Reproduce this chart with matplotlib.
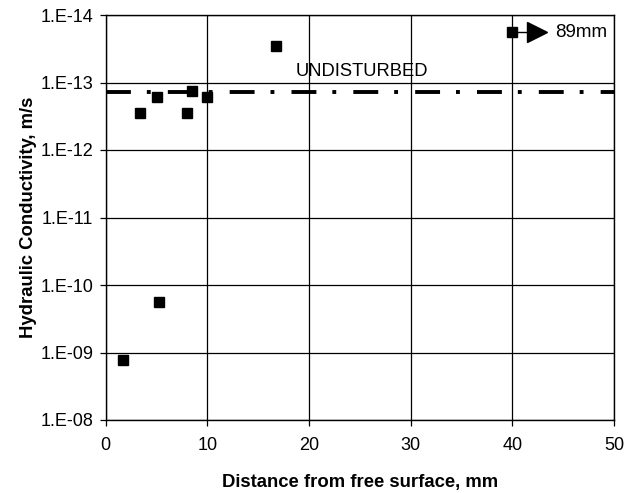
import matplotlib
matplotlib.use("Agg")
import matplotlib.pyplot as plt
from matplotlib.ticker import FixedLocator, FixedFormatter

plt.rcParams['font.family'] = ['Liberation Sans', 'DejaVu Sans']

distance = [1.67, 5.24, 3.37, 5.01, 7.96, 8.46, 9.93, 16.8, 40.0]
conductivity = [1.29e-9, 1.77e-10, 2.86e-13, 1.66e-13, 2.8e-13, 1.32e-13, 1.62e-13, 2.85e-14, 1.8e-14]
undisturbed = 1.38e-13
y_ticks = [1e-14, 1e-13, 1e-12, 1e-11, 1e-10, 1e-9, 1e-8]
y_labels = ["1.E-14", "1.E-13", "1.E-12", "1.E-11", "1.E-10", "1.E-09", "1.E-08"]
x_ticks = [0, 10, 20, 30, 40, 50]

fig = plt.figure(figsize=(6.24, 4.93), dpi=100)
ax = fig.add_axes([105.7 / 624, 1 - 420 / 493, (614 - 105.7) / 624, (420 - 15) / 493])

ax.set_yscale('log')
ax.set_xlim(0, 50)
ax.set_ylim(1e-8, 1e-14)

ax.grid(True, which='major', color='black', linewidth=0.9)
ax.set_axisbelow(True)

ax.plot([0, 50], [undisturbed, undisturbed], color='black', linewidth=2.8,
        linestyle=(0, (6.4, 4.1, 1.0, 4.4)), zorder=3)
ax.text(25.2, undisturbed * 0.66, "UNDISTURBED", ha='center', va='bottom', fontsize=13.2)

ax.plot(distance, conductivity, 's', color='black', markersize=6.5, zorder=4)

# arrow to 89mm
ax.plot([40.0, 42.0], [1.8e-14, 1.8e-14], color='black', linewidth=1.0, zorder=4)
ax.plot([42.4], [1.8e-14], '>', color='black', markersize=14, zorder=4)
ax.text(44.2, 1.8e-14, "89mm", ha='left', va='center', fontsize=13.5)

ax.yaxis.set_major_locator(FixedLocator(y_ticks))
ax.yaxis.set_major_formatter(FixedFormatter(y_labels))
ax.yaxis.set_minor_locator(FixedLocator([]))
ax.set_xticks(x_ticks)

ax.tick_params(axis='both', direction='out', length=4, width=0.9, labelsize=13, colors='black')
ax.tick_params(axis='x', pad=8)
ax.tick_params(axis='y', pad=5)
for s in ax.spines.values():
    s.set_linewidth(1.0)
    s.set_color('black')

ax.set_xlabel("Distance from free surface, mm", fontsize=13.3, fontweight='bold', labelpad=15)
ax.set_ylabel("Hydraulic Conductivity, m/s", fontsize=13.3, fontweight='bold', labelpad=2)

fig.savefig("out.png", dpi=100)
